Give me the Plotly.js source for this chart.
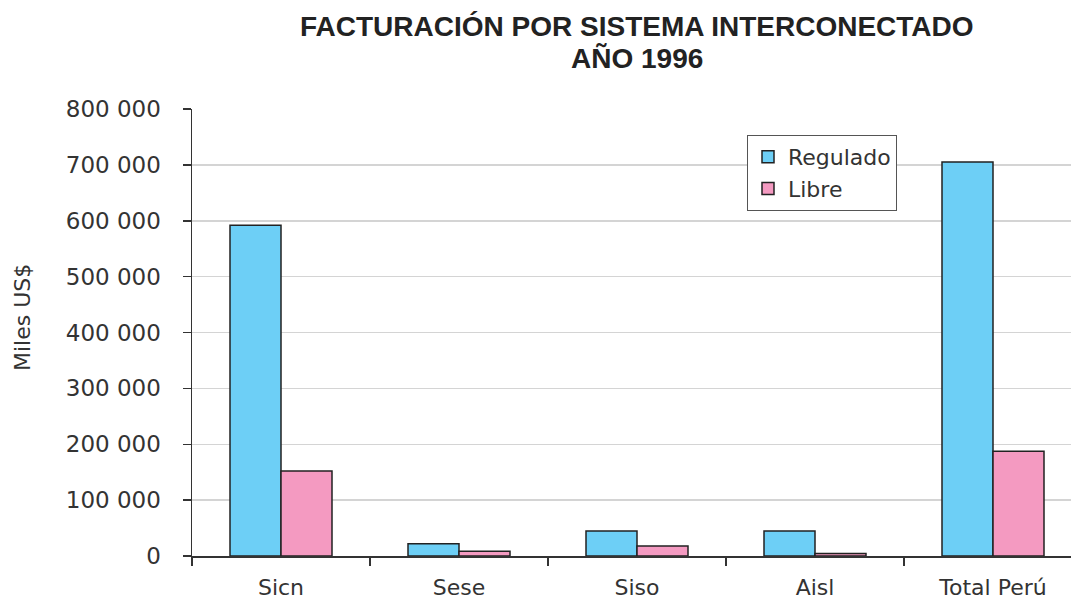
<!DOCTYPE html>
<html><head><meta charset="utf-8">
<script src="https://cdn.plot.ly/plotly-3.0.1.min.js"></script>
<style>html,body{margin:0;padding:0;overflow:hidden;background:#fff}</style>
</head><body>
<div id="chart"></div>
<script>
const categories = ["Sicn", "Sese", "Siso", "Aisl", "Total Perú"];
const regulado = [592000, 22000, 44700, 44700, 705000];
const libre = [152000, 8400, 17900, 4300, 187600];
const yTicks = [0, 100000, 200000, 300000, 400000, 500000, 600000, 700000, 800000];
const titleLines = ["FACTURACIÓN POR SISTEMA INTERCONECTADO", "AÑO 1996"];

const font = "DejaVu Sans, sans-serif";
const titleFont = {family: "Liberation Sans Narrow, Liberation Sans, Arial, sans-serif", size: 28, color: "#222", weight: "bold"};
const data = [
  {type: "bar", name: "Regulado", x: categories, y: regulado,
   marker: {color: "#6dcff6", line: {color: "#222", width: 1.5}}},
  {type: "bar", name: "Libre", x: categories, y: libre,
   marker: {color: "#f49ac1", line: {color: "#222", width: 1.5}}}
];
const M = {l: 192, r: 3, t: 109, b: 44};
const W = 1085, H = 600;
const pw = W - M.l - M.r, ph = H - M.t - M.b;
const px = v => (v - M.l) / pw;
const py = v => 1 - (v - M.t) / ph;
const layout = {
  width: W, height: H, margin: M,
  paper_bgcolor: "#fff", plot_bgcolor: "#fff",
  separators: ". ",
  barmode: "group", bargap: 0.427, bargroupgap: 0,
  showlegend: true,
  font: {family: font, color: "#333", size: 22},
  xaxis: {type: "category", showline: true, linecolor: "#333", linewidth: 1.5,
    ticks: "outside", tickson: "boundaries", ticklen: 8, tickcolor: "#333", tickwidth: 1.5,
    ticklabelstandoff: 11, showgrid: false, fixedrange: true,
    tickfont: {family: font, size: 22, color: "#333"}},
  yaxis: {range: [0, 800000], tickvals: yTicks, tickformat: ",d",
    showline: true, linecolor: "#333", linewidth: 1.5,
    ticks: "outside", ticklen: 8, tickcolor: "#333", tickwidth: 1.5,
    ticklabelstandoff: 17,
    showgrid: true, gridcolor: "#d4d4d4", gridwidth: 1.5, zeroline: false,
    tickfont: {family: font, size: 23, color: "#333"}},
  legend: {x: px(747), y: py(135), xanchor: "left", yanchor: "top",
    bgcolor: "#fff", bordercolor: "#555", borderwidth: 1,
    font: {family: font, size: 22, color: "#333"}},
  annotations: [
    {text: "Miles US$", xref: "paper", yref: "paper", x: px(22), y: py(318),
     xanchor: "center", yanchor: "middle",
     textangle: -90, showarrow: false, font: {family: font, size: 22, color: "#333"}},
    {text: titleLines[0], xref: "paper", yref: "paper", x: px(637), y: py(27),
     xanchor: "center", yanchor: "middle", showarrow: false, font: titleFont},
    {text: titleLines[1], xref: "paper", yref: "paper", x: px(637), y: py(58),
     xanchor: "center", yanchor: "middle", showarrow: false, font: titleFont}
  ]
};
Plotly.newPlot("chart", data, layout, {displayModeBar: false, staticPlot: true});
</script>
</body></html>
